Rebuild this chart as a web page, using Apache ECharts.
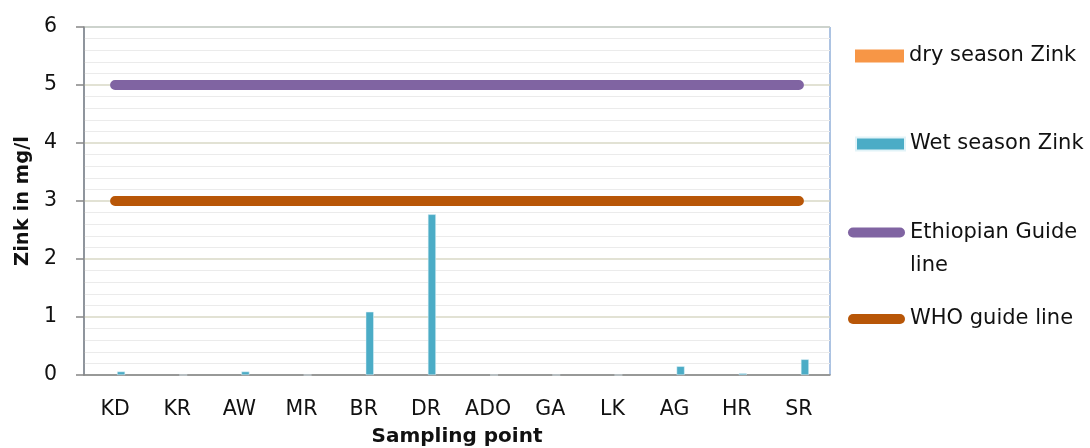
<!DOCTYPE html>
<html>
<head>
<meta charset="utf-8">
<script src="https://cdn.jsdelivr.net/npm/echarts@6/dist/echarts.min.js"></script>
<style>
  html, body { margin: 0; padding: 0; background: #fff; }
  #chart { width: 1090px; height: 448px; }
</style>
</head>
<body>
<div id="chart"></div>
<script>
// Sampling points along the river
const samplingPoints = ['KD', 'KR', 'AW', 'MR', 'BR', 'DR', 'ADO', 'GA', 'LK', 'AG', 'HR', 'SR'];

// Zinc concentration (mg/l) per sampling point
const drySeasonZink = [0, 0, 0, 0, 0, 0, 0, 0, 0, 0, 0, 0];
const wetSeasonZink = [0.06, 0, 0.06, 0, 1.09, 2.77, 0, 0, 0, 0.15, 0.03, 0.27];

// Guide line limits (mg/l)
const ethiopianGuideLine = [5, 5, 5, 5, 5, 5, 5, 5, 5, 5, 5, 5];
const whoGuideLine = [3, 3, 3, 3, 3, 3, 3, 3, 3, 3, 3, 3];

// Y axis ticks
const yTicks = { min: 0, max: 6, interval: 1 };

const FONT = 'DejaVu Sans';
const TEXT = '#111111';
const lineIcon = 'path://M5,0 H52 A5,5 0 0 1 52,10 H5 A5,5 0 0 1 5,0 Z';

function legendBox(name, top, isLine, extra) {
  return Object.assign({
    data: [{ name: name, icon: isLine ? lineIcon : 'rect' }],
    left: isLine ? 848 : 855,
    top: top,
    itemWidth: isLine ? 57 : 49,
    itemHeight: isLine ? 10 : 13,
    padding: 0,
    selectedMode: false,
    textStyle: { fontFamily: FONT, fontSize: 21, color: TEXT, lineHeight: 24 }
  }, extra || {});
}

const chart = echarts.init(document.getElementById('chart'), null, { renderer: 'canvas' });

chart.setOption({
  animation: false,
  backgroundColor: '#ffffff',
  grid: {
    left: 84, right: 260, top: 27, bottom: 73,
    outerBoundsMode: 'none',
    containLabel: false,
    show: true, borderColor: '#5b87c5', borderWidth: 1, backgroundColor: 'transparent'
  },
  legend: [
    legendBox('dry season Zink', 44, false),
    legendBox('Wet season Zink', 132, false),
    legendBox('Ethiopian Guide line', 183, true, {
      // empty leading line keeps the first text line level with the icon
      formatter: () => '\nEthiopian Guide\nline',
      textStyle: { fontFamily: FONT, fontSize: 21, color: TEXT, lineHeight: 33 }
    }),
    legendBox('WHO guide line', 307, true)
  ],
  xAxis: {
    type: 'category',
    data: samplingPoints,
    boundaryGap: true,
    name: 'Sampling point',
    nameLocation: 'middle',
    nameGap: 52,
    nameTextStyle: { fontFamily: FONT, fontSize: 20, fontWeight: 'bold', color: TEXT },
    axisLine: { lineStyle: { color: '#868686', width: 1.5 } },
    axisTick: { show: false },
    axisLabel: { fontFamily: FONT, fontSize: 20.5, color: TEXT, margin: 24 },
    splitLine: { show: false }
  },
  yAxis: {
    type: 'value',
    min: yTicks.min, max: yTicks.max, interval: yTicks.interval,
    name: 'Zink in mg/l',
    nameLocation: 'middle',
    nameGap: 50,
    nameTextStyle: { fontFamily: FONT, fontSize: 19.5, fontWeight: 'bold', color: TEXT },
    axisLine: { show: true, lineStyle: { color: '#868686', width: 1.5 } },
    axisTick: { show: true, length: 8, inside: false, lineStyle: { color: '#868686', width: 1.5 } },
    axisLabel: { fontFamily: FONT, fontSize: 20.5, color: TEXT, margin: 27 },
    splitLine: { show: true, lineStyle: { color: '#d9d9c6', width: 1.5 } },
    minorTick: { show: false, splitNumber: 5 },
    minorSplitLine: { show: true, lineStyle: { color: '#ebebeb', width: 1 } }
  },
  series: [
    {
      name: 'dry season Zink',
      type: 'bar',
      data: drySeasonZink,
      barWidth: 8,
      barGap: '50%',
      itemStyle: { color: '#f79646' }
    },
    {
      name: 'Wet season Zink',
      type: 'bar',
      data: wetSeasonZink,
      barWidth: 8,
      barGap: '50%',
      itemStyle: { color: '#4bacc6', borderColor: '#e2f3f8', borderWidth: 0.5 }
    },
    {
      name: 'Ethiopian Guide line',
      type: 'line',
      data: ethiopianGuideLine,
      symbol: 'none',
      lineStyle: { color: '#8064a2', width: 10, cap: 'round' },
      itemStyle: { color: '#8064a2' },
      z: 3
    },
    {
      name: 'WHO guide line',
      type: 'line',
      data: whoGuideLine,
      symbol: 'none',
      lineStyle: { color: '#b85607', width: 10, cap: 'round' },
      itemStyle: { color: '#b85607' },
      z: 3
    }
  ]
});
</script>
</body>
</html>
